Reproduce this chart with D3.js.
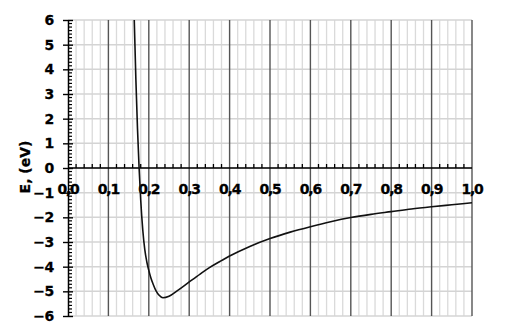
<!DOCTYPE html>
<html>
<head>
<meta charset="utf-8">
<script src="https://cdn.jsdelivr.net/npm/d3@7"></script>
<style>
  body { margin: 0; background: #fff; }
  text { font-family: "DejaVu Sans", Verdana, sans-serif; font-weight: bold; fill: #000; stroke: #000; stroke-width: 0.3; }
</style>
</head>
<body>
<svg id="chart"></svg>
<script>
// separation r (nm) and energy E (eV)
const rValues = [0.164, 0.168, 0.172, 0.176, 0.180, 0.185, 0.190, 0.195, 0.200, 0.205, 0.211,
  0.218, 0.225, 0.235, 0.250, 0.270, 0.300, 0.327, 0.350, 0.376, 0.400, 0.450, 0.500,
  0.550, 0.600, 0.650, 0.700, 0.750, 0.800, 0.850, 0.900, 0.950, 1.000]
const eValues = [6.0, 3.6, 1.6, 0.0, -1.3, -2.5, -3.3, -3.8, -4.15, -4.45, -4.72,
  -4.98, -5.15, -5.26, -5.2, -4.98, -4.62, -4.3, -4.04, -3.79, -3.57, -3.18, -2.86,
  -2.6, -2.38, -2.18, -2.01, -1.88, -1.77, -1.66, -1.57, -1.49, -1.41]
const xTicks = [0, 0.1, 0.2, 0.3, 0.4, 0.5, 0.6, 0.7, 0.8, 0.9, 1.0]
const yTicks = [-6, -5, -4, -3, -2, -1, 0, 1, 2, 3, 4, 5, 6]
const yTitle = 'E, (eV)'

const width = 505
const height = 327
const margin = { top: 20, right: 33, bottom: 11, left: 68 }

const svg = d3.select('#chart')
  .attr('width', width)
  .attr('height', height)

const x = d3.scaleLinear().domain([0, 1]).range([margin.left, width - margin.right])
const y = d3.scaleLinear().domain([-6, 6]).range([height - margin.bottom, margin.top])

const fmt = (d) => d.toFixed(1).replace('.', ',')

// minor vertical gridlines every 0.02
const minorX = d3.range(0, 1.0001, 0.02).filter((d) => Math.abs(d * 10 - Math.round(d * 10)) > 1e-6)
svg.append('g')
  .selectAll('line')
  .data(minorX)
  .join('line')
    .attr('x1', (d) => x(d)).attr('x2', (d) => x(d))
    .attr('y1', y(6)).attr('y2', y(-6))
    .attr('stroke', '#dadada')
    .attr('stroke-width', 1.3)

// horizontal gridlines
svg.append('g')
  .selectAll('line')
  .data(yTicks)
  .join('line')
    .attr('x1', x(0)).attr('x2', x(1))
    .attr('y1', (d) => y(d)).attr('y2', (d) => y(d))
    .attr('stroke', '#d4d4d4')
    .attr('stroke-width', 1.5)

// major vertical gridlines
svg.append('g')
  .selectAll('line')
  .data(xTicks.slice(1))
  .join('line')
    .attr('x1', (d) => x(d)).attr('x2', (d) => x(d))
    .attr('y1', y(6)).attr('y2', y(-6))
    .attr('stroke', '#555')
    .attr('stroke-width', 1.4)

// x axis at E = 0, minor ticks pointing up
svg.append('line')
  .attr('x1', x(0)).attr('x2', x(1))
  .attr('y1', y(0)).attr('y2', y(0))
  .attr('stroke', '#000').attr('stroke-width', 1.5)
svg.append('g')
  .selectAll('line')
  .data(minorX)
  .join('line')
    .attr('x1', (d) => x(d)).attr('x2', (d) => x(d))
    .attr('y1', y(0)).attr('y2', y(0) - 4)
    .attr('stroke', '#000').attr('stroke-width', 1.3)

// y axis
const yAxis = svg.append('g')
  .attr('transform', `translate(${x(0)},0)`)
  .call(d3.axisLeft(y).tickValues(yTicks).tickSize(5).tickSizeOuter(0))
yAxis.select('.domain').attr('stroke', '#000').attr('stroke-width', 1.5)
yAxis.selectAll('.tick line').attr('x2', -5).attr('x1', 5).attr('stroke-width', 1.4)
yAxis.selectAll('.tick text')
  .attr('font-size', 14)
  .attr('font-family', null)
  .attr('x', -14)
  .attr('letter-spacing', -0.3)

const minorY = d3.range(-6, 6, 1 / 7).filter((d) => Math.abs(d - Math.round(d)) > 1e-6)
svg.append('g')
  .selectAll('line')
  .data(minorY)
  .join('line')
    .attr('x1', x(0)).attr('x2', x(0) + 4)
    .attr('y1', (d) => y(d)).attr('y2', (d) => y(d))
    .attr('stroke', '#000').attr('stroke-width', 1.2)

// x tick labels under the zero line
svg.append('g')
  .selectAll('text')
  .data(xTicks)
  .join('text')
    .attr('x', (d) => x(d))
    .attr('y', y(0) + 26)
    .attr('text-anchor', 'middle')
    .attr('font-size', 14)
    .attr('letter-spacing', -1.2)
    .text(fmt)

// y title
svg.append('text')
  .attr('transform', `translate(30,${y(0) - 1}) rotate(-90)`)
  .attr('text-anchor', 'middle')
  .attr('font-size', 14)
  .text(yTitle)

// curve
const pts = rValues.map((r, i) => [r, eValues[i]])
const line = d3.line()
  .x((d) => x(d[0]))
  .y((d) => y(d[1]))
  .curve(d3.curveMonotoneX)

svg.append('path')
  .datum(pts)
  .attr('fill', 'none')
  .attr('stroke', '#111')
  .attr('stroke-width', 1.6)
  .attr('d', line)
</script>
</body>
</html>
